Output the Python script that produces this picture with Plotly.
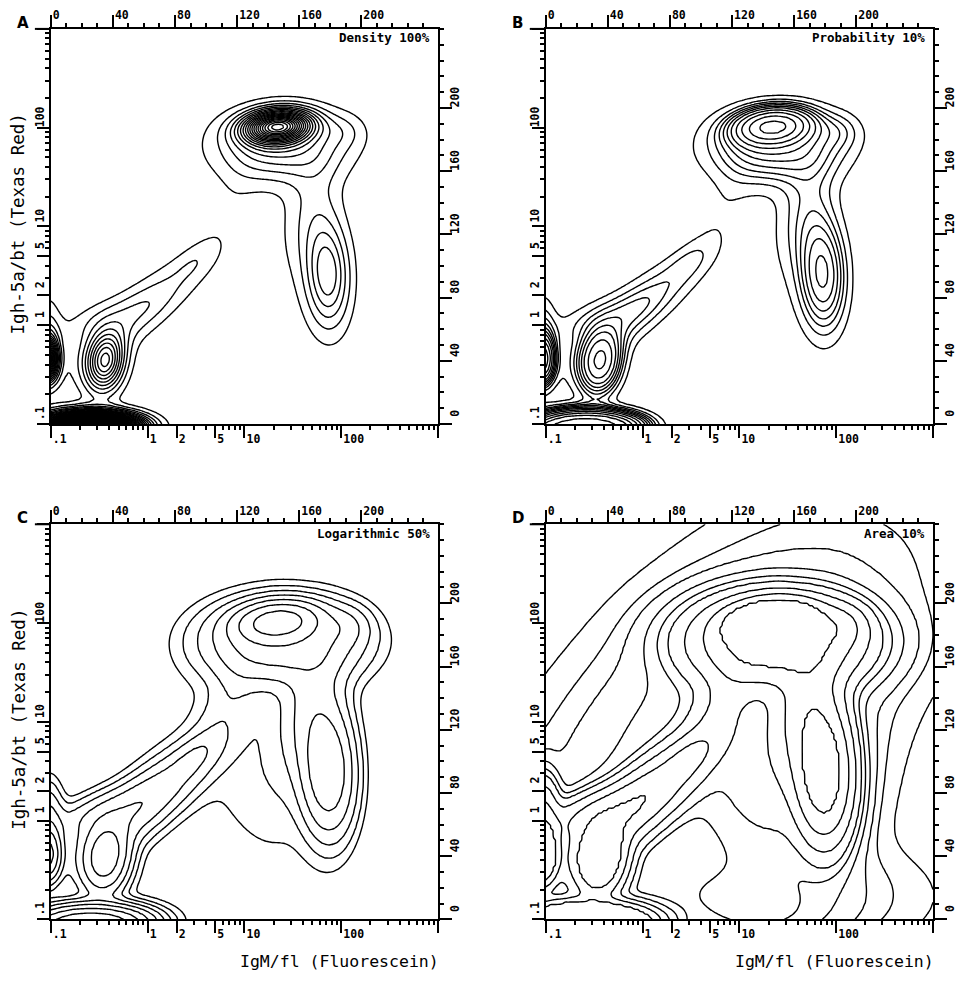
import numpy as np
import plotly.graph_objects as go

# ---------------- data (channel units 0-256 on both axes) ----------------
# cell populations: centre, spread, orientation, peak height
pop_cx    = [24,  45,  -3,  -2,  36,  30,  58,  95, 150, 152, 194, 172, 183, 118, 150, 110, 110, 145]
pop_cy    = [-6,   0,  42,  62,  40,  68,  72, 105, 193, 180, 190, 140,  97, 142,  95, 125,  15,   5]
pop_smaj  = [18,  14,   9,  15,  13,  25,  35,  12,  15,  28,  10,  26,  24,  30,  40,  85,  60,  25]
pop_smin  = [7,    5,   5,   6, 8.5,   8,  10,   6,   7,  15,   8,  12,  10,  10,  28,  42,  20,  12]
pop_angle = [0,    0,  90,  90,  80,  20,  40,  40,   5,   0,   0,  80,  92,  65,  90,  45,   0,   0]
pop_peak  = [70,   6,  18,   2, 9.5, 1.2, 2.6, 0.8,  17,   5, 1.2, 1.6, 5.6, 0.45, 0.3, 0.12, 0.1, 0.08]

# contour level schemes
panel_letters = ["A", "B", "C", "D"]
panel_methods = ["Density 100%", "Probability 10%", "Logarithmic 50%", "Area 10%"]
prob_fracs = [0.075, 0.15, 0.225, 0.3, 0.375, 0.45, 0.525, 0.6, 0.675, 0.75, 0.825, 0.9]
log_steps = [1, 2, 3, 4, 5, 6, 7, 8]
area_fracs = [0.1, 0.2, 0.3, 0.4, 0.5, 0.6, 0.7, 0.8, 0.9]

# axis ticks
log_tick_values = [0.1, 1, 2, 5, 10, 100, 1000]
log_tick_labels = [".1", "1", "2", "5", "10", "100", ""]
lin_tick_values = [0, 40, 80, 120, 160, 200, 240]
lin_tick_labels = ["0", "40", "80", "120", "160", "200", ""]
x_title = "IgM/fl (Fluorescein)"
y_title = "Igh-5a/bt (Texas Red)"

# ---------------- density grid ----------------
gx = np.linspace(0, 256, 161)
gy = np.linspace(0, 256, 161)
X, Y = np.meshgrid(gx, gy)
Z = np.zeros_like(X)
for cx, cy, sa, sb, ang, pk in zip(pop_cx, pop_cy, pop_smaj, pop_smin, pop_angle, pop_peak):
    t = np.deg2rad(ang)
    dx, dy = X - cx, Y - cy
    u = dx * np.cos(t) + dy * np.sin(t)
    v = -dx * np.sin(t) + dy * np.cos(t)
    Z += pk * np.exp(-0.5 * ((u / sa) ** 2 + (v / sb) ** 2))
Z += 1e-9
zmax = Z.max()


def remap(levels):
    lv = np.sort(np.asarray(levels))
    n = len(lv)
    xp = np.concatenate([[0.0], lv, [zmax * 1.01]])
    fp = np.arange(0, n + 2, dtype=float)
    return np.interp(Z, xp, fp), n


# A: linear density levels
zA = Z
nA = int(np.floor(zmax))
# B: probability levels
flat = np.sort(Z.ravel())[::-1]
cum = np.cumsum(flat) / flat.sum()
prob_levels = [flat[min(np.searchsorted(cum, p), len(flat) - 1)] for p in prob_fracs]
zB, nB = remap(prob_levels)
# C: logarithmic 50% levels
log_levels = [zmax * 0.5 ** k for k in log_steps]
zC, nC = remap(log_levels)
# D: equal area levels
area_levels = list(np.quantile(Z, area_fracs))
zD, nD = remap(area_levels)

zs = [(zA, 1, nA), (zB, 1, nB), (zC, 1, nC), (zD, 1, nD)]


def ch(v):
    return 64 * (np.log10(v) + 1)


log_minor = []
for d in [0.1, 1, 10, 100]:
    for k in range(2, 10):
        log_minor.append(ch(d * k))
lin_minor = list(range(0, 251, 10))

# page has an 8px body margin; figure is placed inside it
OFF = 8
W, H = 965 - 2 * OFF, 981 - 2 * OFF


def fx(px):
    return (px - OFF) / W


def fy(py):
    return 1 - (py - OFF) / H


geom = [  # left, right, top, bottom in page px
    (51, 440, 22, 420),
    (548, 937, 22, 420),
    (51, 440, 521, 919),
    (548, 937, 521, 919),
]

fig = go.Figure()
tickfont = dict(family="DejaVu Sans Mono", size=11.5, color="black", weight="bold")
layout = {}
annotations = []
shapes = []
for i in range(4):
    n = i + 1
    xa = "x" if n == 1 else f"x{n}"
    ya = "y" if n == 1 else f"y{n}"
    xt = f"x{n + 4}"
    yr = f"y{n + 4}"
    z, s, e = zs[i]
    fig.add_trace(go.Contour(
        x=gx, y=gy, z=z, xaxis=xa, yaxis=ya, autocontour=False,
        contours=dict(coloring="lines", start=s, end=e, size=1),
        colorscale=[[0, "black"], [1, "black"]], showscale=False,
        line=dict(width=1.4, smoothing=0.8), hoverinfo="skip"))
    fig.add_trace(go.Scatter(x=[None], y=[None], xaxis=xt, yaxis=yr,
                             showlegend=False, hoverinfo="skip"))
    l, r, t, b = geom[i]
    common = dict(showgrid=False, zeroline=False, showline=True,
                  linecolor="black", linewidth=2, ticks="outside", ticklen=12,
                  tickwidth=2, tickcolor="black", tickfont=tickfont, fixedrange=True)
    minor = dict(ticklen=4, ticks="outside", tickcolor="black", tickwidth=1.5)
    layout["xaxis" if n == 1 else f"xaxis{n}"] = dict(
        common, range=[0, 256], domain=[fx(l), fx(r)], anchor=ya, tickmode="array",
        tickvals=[ch(v) for v in log_tick_values], ticktext=log_tick_labels,
        ticklabelposition="outside right", ticklabelstandoff=3,
        minor=dict(minor, tickvals=log_minor))
    layout["yaxis" if n == 1 else f"yaxis{n}"] = dict(
        common, range=[0, 256], domain=[fy(b), fy(t)], anchor=xa, tickmode="array",
        tickvals=[ch(v) for v in log_tick_values], ticktext=log_tick_labels,
        tickangle=-90, ticklabelposition="outside top", ticklabelstandoff=0,
        minor=dict(minor, tickvals=log_minor))
    layout[f"xaxis{n + 4}"] = dict(
        common, range=[0, 249.5], overlaying=xa, side="top", anchor=ya, tickmode="array",
        tickvals=lin_tick_values, ticktext=lin_tick_labels,
        ticklabelposition="outside right", ticklabelstandoff=3,
        minor=dict(minor, tickvals=lin_minor))
    layout[f"yaxis{n + 4}"] = dict(
        common, range=[0, 250], overlaying=ya, side="right", anchor=xa, tickmode="array",
        tickvals=lin_tick_values, ticktext=lin_tick_labels,
        tickangle=-90, ticklabelposition="outside top", ticklabelstandoff=5,
        minor=dict(minor, tickvals=lin_minor))
    # short extension of the top axis line to the left of the frame
    shapes.append(dict(type="line", xref="paper", yref="paper",
                       x0=fx(l - 16), x1=fx(l), y0=fy(t), y1=fy(t),
                       line=dict(color="black", width=2)))
    annotations.append(dict(text=panel_letters[i], x=fx(l - 36), y=fy(t - 6),
                            xref="paper", yref="paper", showarrow=False, xanchor="left",
                            yanchor="middle",
                            font=dict(family="DejaVu Sans", size=15, weight="bold", color="black")))
    annotations.append(dict(text=panel_methods[i], x=fx(r - 6), y=fy(t + 9),
                            xref="paper", yref="paper", showarrow=False, xanchor="right",
                            yanchor="middle",
                            font=dict(family="DejaVu Sans Mono", size=12.5, weight="bold", color="black")))
    if i >= 2:
        annotations.append(dict(text=x_title, x=fx(l + 290), y=fy(b + 42),
                                xref="paper", yref="paper", showarrow=False,
                                xanchor="center", yanchor="middle",
                                font=dict(family="DejaVu Sans Mono", size=16.5, color="black")))
    if i % 2 == 0:
        annotations.append(dict(text=y_title, x=fx(19), y=fy((t + b) / 2 - 3),
                                xref="paper", yref="paper", showarrow=False, textangle=-90,
                                xanchor="center", yanchor="middle",
                                font=dict(family="DejaVu Sans Mono", size=17.5, color="black")))

fig.update_layout(**layout)
fig.update_layout(width=W, height=H, margin=dict(l=0, r=0, t=0, b=0),
                  plot_bgcolor="white", paper_bgcolor="white", showlegend=False,
                  annotations=annotations, shapes=shapes)
fig.write_html("out.html")
